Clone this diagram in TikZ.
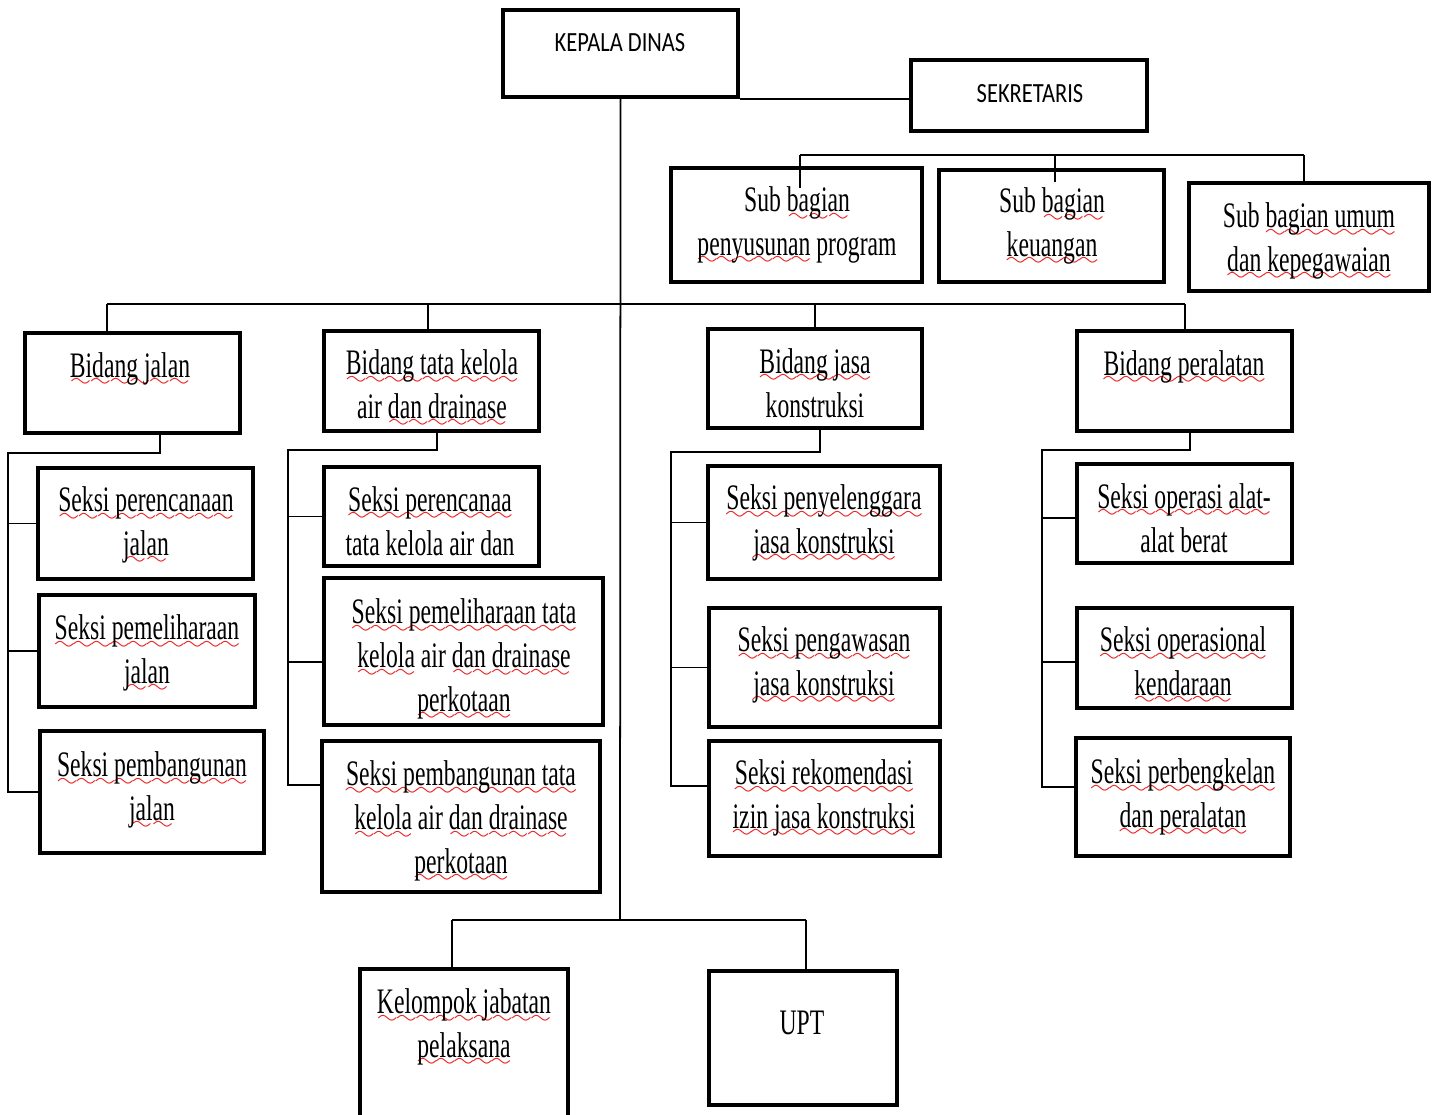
\documentclass[tikz,border=0pt]{standalone}
\usepackage{fontspec}
\setmainfont[FakeStretch=0.66]{Liberation Serif}
\newfontfamily\calibrifont[FakeStretch=0.81]{Carlito}
\usepackage{xcolor}
\usepackage{tikz}
\usetikzlibrary{positioning, calc}
\definecolor{spellred}{RGB}{235, 30, 30}
\font\wavefont=lasy6
\newsavebox{\spellbox}
\newcommand{\spell}[1]{\sbox{\spellbox}{#1}\rlap{\textcolor{spellred}{\lower2.6pt\hbox to \wd\spellbox{\xleaders\hbox{\wavefont\char58}\hfill}}}\usebox{\spellbox}}

\begin{document}
\begin{tikzpicture}[
    box/.style={draw, line width=1pt, inner sep=0pt},
    txt/.style={align=center, inner sep=0pt, font=\fontsize{10.2}{12.5}\selectfont},
    captxt/.style={inner sep=0pt, font=\calibrifont\fontsize{7.9}{9.5}\selectfont},
    conn/.style={line width=0.5pt}
]
    \useasboundingbox (0,0) rectangle (14.38,-11.15);

    % Kepala dinas dan sekretaris
    \node[box, minimum width=2.35cm, minimum height=0.87cm] (kepala) at (6.205,-0.535) {};
    \node[captxt] (kepalat) at (6.20,-0.43) {KEPALA DINAS};
    \node[box, minimum width=2.36cm, minimum height=0.71cm] (sekretaris) at (10.29,-0.955) {};
    \node[captxt] (sekretarist) at (10.30,-0.94) {SEKRETARIS};
    \draw[conn] (kepala.south east) -- (kepala.south east -| sekretaris.west);

    % Sub bagian
    \node[box, minimum width=2.51cm, minimum height=1.14cm] (sub1) at (7.965,-2.25) {};
    \node[txt] (sub1t) at (7.97,-2.26) {Sub \spell{bagian}\\ \spell{penyusunan} program};
    \node[box, minimum width=2.25cm, minimum height=1.12cm] (sub2) at (10.515,-2.26) {};
    \node[txt] (sub2t) at (10.52,-2.27) {Sub \spell{bagian}\\ \spell{keuangan}};
    \node[box, minimum width=2.40cm, minimum height=1.08cm] (sub3) at (13.09,-2.37) {};
    \node[txt] (sub3t) at (13.09,-2.42) {Sub \spell{bagian umum}\\ \spell{dan kepegawaian}};

    \coordinate (sbarL) at (8.00,-1.55);
    \coordinate (sbarM) at (10.55,-1.55);
    \coordinate (sbarR) at (13.04,-1.55);
    \draw[conn] (sbarL) -- (sbarR);
    \draw[conn] (sbarL) -- ([yshift=-0.22cm]sbarL |- sub1.north);
    \draw[conn] (sbarM) -- ([yshift=-0.14cm]sbarM |- sub2.north);
    \draw[conn] (sbarR) -- (sbarR |- sub3.north);

    % Bidang
    \node[box, minimum width=2.15cm, minimum height=1.00cm] (bjalan) at (1.325,-3.83) {};
    \node[txt] (bjalant) at (1.30,-3.70) {\spell{Bidang jalan}};
    \node[box, minimum width=2.15cm, minimum height=1.00cm] (btata) at (4.315,-3.81) {};
    \node[txt] (btatat) at (4.32,-3.89) {\spell{Bidang tata kelola}\\ air \spell{dan drainase}};
    \node[box, minimum width=2.14cm, minimum height=0.99cm] (bjasa) at (8.15,-3.785) {};
    \node[txt] (bjasat) at (8.15,-3.83) {\spell{Bidang jasa}\\ konstruksi};
    \node[box, minimum width=2.15cm, minimum height=1.00cm] (bperal) at (11.845,-3.81) {};
    \node[txt] (bperalt) at (11.84,-3.68) {\spell{Bidang peralatan}};

    \coordinate (j1) at (1.07,-3.04);
    \coordinate (j2) at (4.28,-3.04);
    \coordinate (j3) at (8.15,-3.04);
    \coordinate (j4) at (11.85,-3.04);
    \draw[conn] (j1) -- (j4);
    \draw[conn] (j1) -- (j1 |- bjalan.north);
    \draw[conn] (j2) -- (j2 |- btata.north);
    \draw[conn] (j3) -- (j3 |- bjasa.north);
    \draw[conn] (j4) -- (j4 |- bperal.north);

    % Seksi bidang jalan
    \node[box, minimum width=2.15cm, minimum height=1.11cm] (s11) at (1.455,-5.235) {};
    \node[txt] (s11t) at (1.46,-5.26) {\spell{Seksi perencanaan}\\ \spell{jalan}};
    \node[box, minimum width=2.16cm, minimum height=1.12cm] (s12) at (1.47,-6.51) {};
    \node[txt] (s12t) at (1.47,-6.54) {\spell{Seksi pemeliharaan}\\ \spell{jalan}};
    \node[box, minimum width=2.24cm, minimum height=1.22cm] (s13) at (1.52,-7.92) {};
    \node[txt] (s13t) at (1.52,-7.91) {\spell{Seksi pembangunan}\\ \spell{jalan}};

    \coordinate (k1) at (0.08,-4.53);
    \draw[conn] ([xshift=0.275cm]bjalan.south) |- (k1) |- (s13.west);
    \draw[conn] (k1 |- s11.west) -- (s11.west);
    \draw[conn] (k1 |- s12.west) -- (s12.west);

    % Seksi bidang tata kelola air
    \node[box, minimum width=2.15cm, minimum height=0.99cm] (s21) at (4.315,-5.165) {};
    \node[txt] (s21t) at (4.30,-5.21) {\spell{Seksi perencanaa}\\ tata kelola air dan};
    \node[box, minimum width=2.79cm, minimum height=1.47cm] (s22) at (4.635,-6.515) {};
    \node[txt] (s22t) at (4.64,-6.60) {\spell{Seksi pemeliharaan tata}\\ \spell{kelola} air \spell{dan drainase}\\ \spell{perkotaan}};
    \node[box, minimum width=2.78cm, minimum height=1.51cm] (s23) at (4.61,-8.165) {};
    \node[txt] (s23t) at (4.61,-8.22) {\spell{Seksi pembangunan tata}\\ \spell{kelola} air \spell{dan drainase}\\ \spell{perkotaan}};

    \coordinate (k2) at (2.88,-4.50);
    \coordinate (r22) at ([yshift=-0.105cm]s22.west);
    \coordinate (r23) at ([yshift=0.315cm]s23.west);
    \draw[conn] ([xshift=0.055cm]btata.south) |- (k2) |- (r23);
    \draw[conn] (k2 |- s21.west) -- (s21.west);
    \draw[conn] (k2 |- r22) -- (r22);

    % Seksi bidang jasa konstruksi
    \node[box, minimum width=2.32cm, minimum height=1.13cm] (s31) at (8.24,-5.225) {};
    \node[txt] (s31t) at (8.24,-5.24) {\spell{Seksi penyelenggara}\\ \spell{jasa konstruksi}};
    \node[box, minimum width=2.31cm, minimum height=1.19cm] (s32) at (8.245,-6.675) {};
    \node[txt] (s32t) at (8.24,-6.66) {\spell{Seksi pengawasan}\\ \spell{jasa konstruksi}};
    \node[box, minimum width=2.31cm, minimum height=1.15cm] (s33) at (8.245,-7.985) {};
    \node[txt] (s33t) at (8.24,-7.99) {\spell{Seksi rekomendasi}\\ \spell{izin jasa konstruksi}};

    \coordinate (k3) at (6.71,-4.52);
    \coordinate (r33) at ([yshift=0.125cm]s33.west);
    \draw[conn] ([xshift=0.05cm]bjasa.south) |- (k3) |- (r33);
    \draw[conn] (k3 |- s31.west) -- (s31.west);
    \draw[conn] (k3 |- s32.west) -- (s32.west);

    % Seksi bidang peralatan
    \node[box, minimum width=2.15cm, minimum height=0.99cm] (s41) at (11.845,-5.135) {};
    \node[txt] (s41t) at (11.84,-5.18) {\spell{Seksi operasi alat-}\\ alat berat};
    \node[box, minimum width=2.15cm, minimum height=1.00cm] (s42) at (11.845,-6.58) {};
    \node[txt] (s42t) at (11.83,-6.66) {\spell{Seksi operasional}\\ \spell{kendaraan}};
    \node[box, minimum width=2.14cm, minimum height=1.18cm] (s43) at (11.83,-7.97) {};
    \node[txt] (s43t) at (11.83,-7.98) {\spell{Seksi perbengkelan}\\ \spell{dan peralatan}};

    \coordinate (k4) at (10.42,-4.50);
    \coordinate (r41) at ([yshift=-0.045cm]s41.west);
    \coordinate (r42) at ([yshift=-0.04cm]s42.west);
    \coordinate (r43) at ([yshift=0.10cm]s43.west);
    \draw[conn] ([xshift=0.055cm]bperal.south) |- (k4) |- (r43);
    \draw[conn] (k4 |- r41) -- (r41);
    \draw[conn] (k4 |- r42) -- (r42);

    % Kelompok jabatan dan UPT
    \node[box, minimum width=2.08cm, minimum height=1.56cm] (kjp) at (4.64,-10.47) {};
    \node[txt] (kjpt) at (4.64,-10.28) {\spell{Kelompok jabatan}\\ \spell{pelaksana}};
    \node[box, minimum width=1.88cm, minimum height=1.34cm] (upt) at (8.03,-10.38) {};
    \node[txt] (uptt) at (8.02,-10.23) {UPT};

    \coordinate (bbar) at (6.20,-9.20);
    \coordinate (bL) at (4.52,-9.20);
    \coordinate (bR) at (8.06,-9.20);
    \draw[conn] (kepala.south) -- (bbar);
    \draw[conn] (bL) -- (bR);
    \draw[conn] (bL) -- (bL |- kjp.north);
    \draw[conn] (bR) -- (bR |- upt.north);
\end{tikzpicture}
\end{document}
